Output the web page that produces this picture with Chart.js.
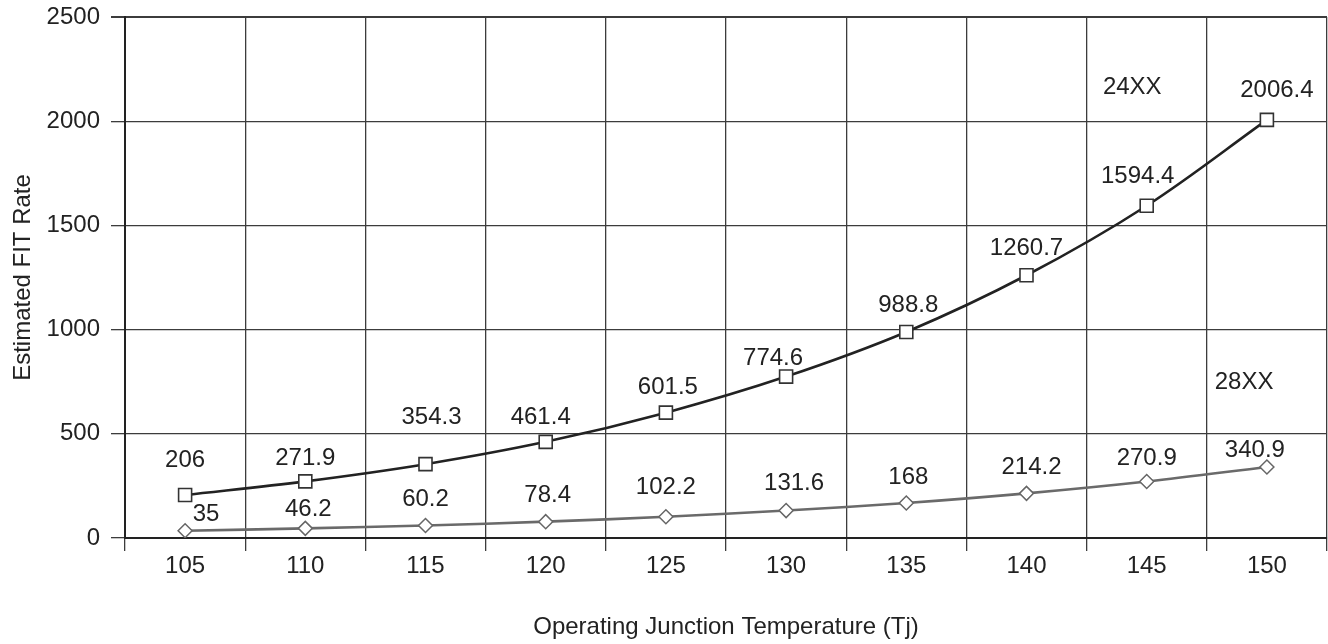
<!DOCTYPE html>
<html>
<head>
<meta charset="utf-8">
<script src="https://cdn.jsdelivr.net/npm/chart.js@4.4.1/dist/chart.umd.min.js"></script>
<style>
  html, body { margin: 0; padding: 0; background: #ffffff; }
  #wrap { width: 1328px; height: 644px; }
</style>
</head>
<body>
<div id="wrap"><canvas id="c" width="1328" height="644"></canvas></div>
<script>
const categories = ['105', '110', '115', '120', '125', '130', '135', '140', '145', '150'];
const series24XX = [206, 271.9, 354.3, 461.4, 601.5, 774.6, 988.8, 1260.7, 1594.4, 2006.4];
const series28XX = [35, 46.2, 60.2, 78.4, 102.2, 131.6, 168, 214.2, 270.9, 340.9];
const seriesNames = ['24XX', '28XX'];
const yTicks = [0, 500, 1000, 1500, 2000, 2500];
const xTitle = 'Operating Junction Temperature (Tj)';
const yTitle = 'Estimated FIT Rate';

const FONT = '"Liberation Sans", Arial, sans-serif';
const FS = 24;

const labelPlugin = {
  id: 'pointLabels',
  afterDatasetsDraw(chart, args, opts) {
    const ctx = chart.ctx;
    ctx.save();
    ctx.font = FS + 'px ' + FONT;
    ctx.fillStyle = '#222';
    ctx.textAlign = 'center';
    ctx.textBaseline = 'middle';
    chart.data.datasets.forEach((ds, di) => {
      const meta = chart.getDatasetMeta(di);
      const lift = opts.lift[di];
      const nudge = opts.nudge[di] || {};
      meta.data.forEach((pt, i) => {
        const n = nudge[i] || [0, 0];
        ctx.fillText(String(ds.data[i]), pt.x + n[0], pt.y - lift + n[1]);
      });
    });
    const xs = chart.scales.x, ys = chart.scales.y;
    opts.names.forEach(nm => {
      const i0 = Math.floor(nm.at[0]);
      const x0 = xs.getPixelForValue(i0);
      const x1 = xs.getPixelForValue(i0 + 1);
      const x = x0 + (x1 - x0) * (nm.at[0] - i0);
      ctx.fillText(nm.text, x, ys.getPixelForValue(nm.at[1]));
    });
    ctx.restore();
  }
};

new Chart(document.getElementById('c'), {
  type: 'line',
  data: {
    labels: categories,
    datasets: [
      {
        label: seriesNames[0],
        data: series24XX,
        borderColor: '#222222',
        borderWidth: 2.6,
        tension: 0.35,
        pointStyle: 'rect',
        pointRadius: 9.2,
        pointBorderWidth: 1.6,
        pointBorderColor: '#333333',
        pointBackgroundColor: '#ffffff'
      },
      {
        label: seriesNames[1],
        data: series28XX,
        borderColor: '#6a6a6a',
        borderWidth: 2.6,
        tension: 0.35,
        pointStyle: 'rectRot',
        pointRadius: 7,
        pointBorderWidth: 1.5,
        pointBorderColor: '#666666',
        pointBackgroundColor: '#ffffff'
      }
    ]
  },
  options: {
    responsive: false,
    animation: false,
    devicePixelRatio: 1,
    layout: { autoPadding: false, padding: { top: 17, right: 1, left: 0, bottom: 0 } },
    plugins: {
      legend: { display: false },
      tooltip: { enabled: false },
      pointLabels: {
        lift: [27, 26],
        nudge: [
          { 0: [0, -8], 1: [0, 4], 2: [6, -20], 3: [-5, 3], 4: [2, 2], 5: [-13, 9], 6: [2, 0], 8: [-9, -2], 9: [10, -2] },
          { 0: [21, 10], 1: [3, 7], 3: [2, 0], 4: [0, -3], 5: [8, -1], 6: [2, 0], 7: [5, 0], 8: [0, 3], 9: [-12, 9] }
        ],
        names: [
          { text: seriesNames[0], at: [7.88, 2160] },
          { text: seriesNames[1], at: [8.81, 745] }
        ]
      }
    },
    scales: {
      x: {
        type: 'category',
        offset: true,
        grid: {
          offset: true,
          color: '#3c3c3c',
          lineWidth: 1.3,
          drawTicks: true,
          tickLength: 13,
          tickColor: '#3c3c3c'
        },
        border: { display: true, color: '#222222', width: 2 },
        ticks: {
          color: '#222',
          font: { family: FONT, size: FS },
          padding: 1,
          maxRotation: 0,
          autoSkip: false
        },
        title: {
          display: true,
          text: xTitle,
          color: '#222',
          font: { family: FONT, size: FS },
          padding: { top: 0, bottom: 2 }
        },
        afterFit(scale) {
          scale.height = 106;
          scale.paddingLeft = 0; scale.paddingRight = 0;
          scale.paddingTop = 0; scale.paddingBottom = 0;
        }
      },
      y: {
        min: yTicks[0],
        max: yTicks[yTicks.length - 1],
        afterBuildTicks(scale) { scale.ticks = yTicks.map(v => ({ value: v })); },
        grid: {
          color: '#3c3c3c',
          lineWidth: (c) => (c.tick && c.tick.value === yTicks[yTicks.length - 1] ? 2 : 1.3),
          drawTicks: true,
          tickLength: 14,
          tickColor: '#3c3c3c'
        },
        border: { display: true, color: '#222222', width: 2 },
        ticks: {
          color: '#222',
          font: { family: FONT, size: FS },
          padding: 11,
          callback: (v) => String(v)
        },
        title: {
          display: true,
          text: yTitle,
          color: '#222',
          font: { family: FONT, size: FS },
          padding: { top: 9, bottom: 0 }
        },
        afterFit(scale) {
          scale.width = 125;
          scale.paddingLeft = 0; scale.paddingRight = 0;
          scale.paddingTop = 0; scale.paddingBottom = 0;
        }
      }
    }
  },
  plugins: [labelPlugin]
});
</script>
</body>
</html>
